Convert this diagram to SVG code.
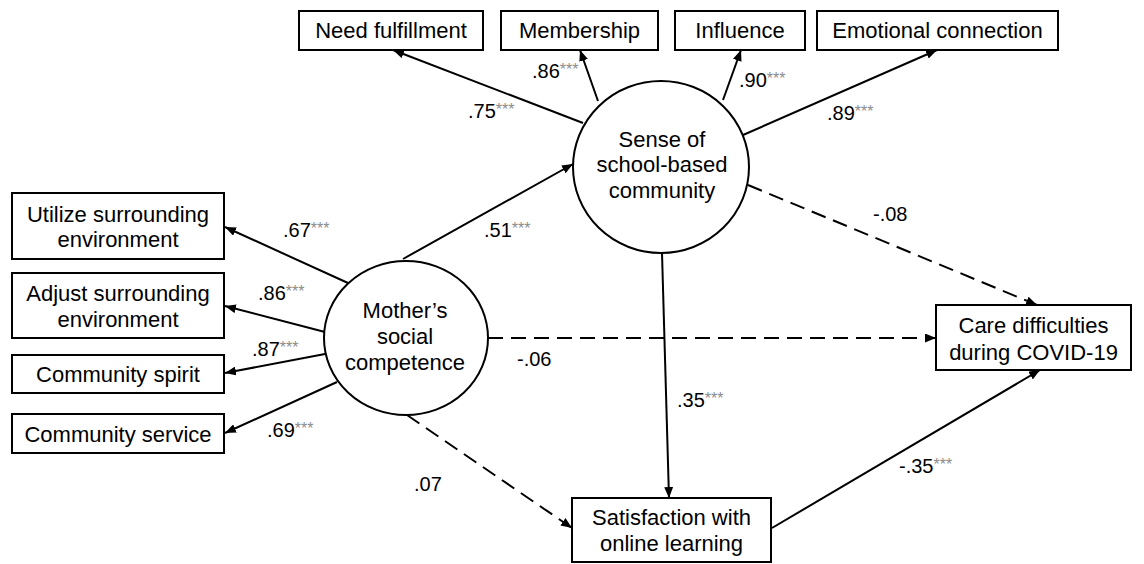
<svg xmlns="http://www.w3.org/2000/svg" width="1144" height="564" viewBox="0 0 1144 564">
<style>
.box{fill:#fff;stroke:#000;stroke-width:2}
.lat{fill:#fff;stroke:#000;stroke-width:2}
.t{font-family:"Liberation Sans",Arial,sans-serif;font-size:22px;fill:#000;text-anchor:middle}
.l{font-family:"Liberation Sans",Arial,sans-serif;font-size:20px;fill:#000}
.s{font-size:16px;fill:#8c8c8c}
.c{fill:none;stroke:#000;stroke-width:2}
.d{stroke-dasharray:15 8}
</style>
<defs>
<marker id="ah" markerUnits="userSpaceOnUse" markerWidth="11" markerHeight="9" refX="11" refY="4.5" orient="auto">
<path d="M0,0 L11,4.5 L0,9 z" fill="#000"/>
</marker>
</defs>
<rect width="1144" height="564" fill="#fff"/>
<g id="connectors">
<path class="c" d="M583,123 L393,50" marker-end="url(#ah)"/>
<path class="c" d="M598,101 L580,50" marker-end="url(#ah)"/>
<path class="c" d="M723,100 L741,50" marker-end="url(#ah)"/>
<path class="c" d="M743,135 L937,50" marker-end="url(#ah)"/>
<path class="c" d="M348,283 L225,227" marker-end="url(#ah)"/>
<path class="c" d="M325,332 L225,306" marker-end="url(#ah)"/>
<path class="c" d="M325,354 L225,373" marker-end="url(#ah)"/>
<path class="c" d="M337,382 L225,433" marker-end="url(#ah)"/>
<path class="c" d="M403,259 L573,164" marker-end="url(#ah)"/>
<path class="c d" d="M488,338 L936,338" marker-end="url(#ah)"/>
<path class="c" d="M662,253 L669,498" marker-end="url(#ah)"/>
<path class="c d" d="M748,185 L1037,305" marker-end="url(#ah)"/>
<path class="c d" d="M407,415 L572,528" marker-end="url(#ah)"/>
<path class="c" d="M772,528 L1040,370" marker-end="url(#ah)"/>
</g>
<g id="labels">
<text class="l" x="468" y="118">.75<tspan class="s" dy="-3">***</tspan></text>
<text class="l" x="532" y="78">.86<tspan class="s" dy="-3">***</tspan></text>
<text class="l" x="739" y="87">.90<tspan class="s" dy="-3">***</tspan></text>
<text class="l" x="827" y="120">.89<tspan class="s" dy="-3">***</tspan></text>
<text class="l" x="283" y="237">.67<tspan class="s" dy="-3">***</tspan></text>
<text class="l" x="258" y="300">.86<tspan class="s" dy="-3">***</tspan></text>
<text class="l" x="252" y="356">.87<tspan class="s" dy="-3">***</tspan></text>
<text class="l" x="267" y="437">.69<tspan class="s" dy="-3">***</tspan></text>
<text class="l" x="484" y="237">.51<tspan class="s" dy="-3">***</tspan></text>
<text class="l" x="517" y="366">-.06</text>
<text class="l" x="677" y="407">.35<tspan class="s" dy="-3">***</tspan></text>
<text class="l" x="873" y="221">-.08</text>
<text class="l" x="414" y="491">.07</text>
<text class="l" x="899" y="473">-.35<tspan class="s" dy="-3">***</tspan></text>
</g>
<g id="need">
<rect class="box" x="299" y="11" width="184" height="39"/>
<text class="t" x="391" y="38">Need fulfillment</text>
</g>
<g id="membership">
<rect class="box" x="501" y="11" width="157" height="39"/>
<text class="t" x="579.5" y="38">Membership</text>
</g>
<g id="influence">
<rect class="box" x="675" y="11" width="130" height="39"/>
<text class="t" x="740" y="38">Influence</text>
</g>
<g id="emotional">
<rect class="box" x="817" y="11" width="241" height="39"/>
<text class="t" x="937.5" y="38">Emotional connection</text>
</g>
<g id="sense">
<ellipse class="lat" cx="661" cy="167" rx="88" ry="86"/>
<text class="t" x="662" y="147">Sense of</text>
<text class="t" x="662" y="172">school-based</text>
<text class="t" x="662" y="198">community</text>
</g>
<g id="mother">
<ellipse class="lat" cx="406" cy="338" rx="82" ry="77"/>
<text class="t" x="405" y="318">Mother’s</text>
<text class="t" x="405" y="344">social</text>
<text class="t" x="405" y="370">competence</text>
</g>
<g id="utilize">
<rect class="box" x="12" y="193" width="212" height="66"/>
<text class="t" x="118" y="222">Utilize surrounding</text>
<text class="t" x="118" y="247">environment</text>
</g>
<g id="adjust">
<rect class="box" x="12" y="273" width="212" height="65"/>
<text class="t" x="118" y="301">Adjust surrounding</text>
<text class="t" x="118" y="327">environment</text>
</g>
<g id="spirit">
<rect class="box" x="12" y="355" width="212" height="38"/>
<text class="t" x="118" y="382">Community spirit</text>
</g>
<g id="service">
<rect class="box" x="12" y="414" width="212" height="39"/>
<text class="t" x="118" y="442">Community service</text>
</g>
<g id="care">
<rect class="box" x="936" y="305" width="195" height="65"/>
<text class="t" x="1033.5" y="333">Care difficulties</text>
<text class="t" x="1033.5" y="360">during COVID-19</text>
</g>
<g id="satisfaction">
<rect class="box" x="572" y="498" width="199" height="64"/>
<text class="t" x="671.5" y="525">Satisfaction with</text>
<text class="t" x="671.5" y="551">online learning</text>
</g>
</svg>
